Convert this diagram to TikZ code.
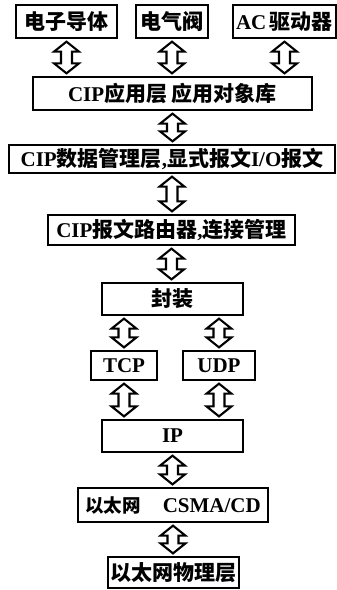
\documentclass[tikz,border=0pt]{standalone}
\usepackage{fontspec}
\setmainfont{Liberation Serif}
\newfontfamily\cjk{Noto Sans CJK SC}
\usetikzlibrary{calc}
\newcommand{\zh}[1]{{\cjk #1}}
\tikzset{
  box/.style={draw, line width=2.3pt, inner sep=0pt, align=center,
    font=\fontsize{21}{25}\selectfont\bfseries},
  arr/.style={draw, line width=2.1pt, fill=white, line join=miter},
}
% double hollow arrow from upper point #1 to lower point #2 (same x)
\newcommand{\dblarr}[2]{%
  \draw[arr] let \p1=(#1), \p2=(#2) in
    (\x1,{\y1-2.5pt}) -- ({\x1+12.5pt},{\y1-12.5pt}) -- ({\x1+5.5pt},{\y1-12.5pt})
    -- ({\x1+5.5pt},{\y2+12.5pt}) -- ({\x1+12.5pt},{\y2+12.5pt}) -- (\x1,{\y2+2.5pt})
    -- ({\x1-12.5pt},{\y2+12.5pt}) -- ({\x1-5.5pt},{\y2+12.5pt})
    -- ({\x1-5.5pt},{\y1-12.5pt}) -- ({\x1-12.5pt},{\y1-12.5pt}) -- cycle;}
\begin{document}
\begin{tikzpicture}[x=1pt,y=-1pt]
\useasboundingbox (0,0) rectangle (337,590);
\node[box, minimum width=101pt, minimum height=33pt] (e1) at (66.5,21.5) {\zh{电子导体}};
\node[box, minimum width=72pt, minimum height=33pt] (e2) at (172,21.5) {\zh{电气阀}};
\node[box, minimum width=103pt, minimum height=33pt] (e3) at (284.5,21.5) {AC\,\zh{驱动器}};
\node[box, minimum width=279pt, minimum height=33pt] (app) at (172.5,93.5) {CIP\zh{应用层 应用对象库}};
\node[box, minimum width=326pt, minimum height=28pt] (data) at (172,159) {CIP\zh{数据管理层},\zh{显式报文}I/O\zh{报文}};
\node[box, minimum width=247pt, minimum height=30pt] (router) at (171.5,230) {CIP\zh{报文路由器},\zh{连接管理}};
\node[box, minimum width=141pt, minimum height=32pt] (enc) at (172.5,299) {\zh{封装}};
\node[box, minimum width=66pt, minimum height=29pt] (tcp) at (124,365.5) {TCP};
\node[box, minimum width=72pt, minimum height=29pt] (udp) at (219,365.5) {UDP};
\node[box, minimum width=141pt, minimum height=32pt] (ip) at (172.5,436) {IP};
\node[box, minimum width=190pt, minimum height=34pt] (eth) at (173,505) {{\fontsize{18.5}{22}\selectfont\zh{以太网}}\hspace{22pt}CSMA/CD};
\node[box, minimum width=131pt, minimum height=31pt] (phy) at (173.5,572.5) {\zh{以太网物理层}};
\dblarr{e1.south}{e1.south |- app.north}
\dblarr{e2.south}{e2.south |- app.north}
\dblarr{e3.south}{e3.south |- app.north}
\dblarr{app.south}{app.south |- data.north}
\dblarr{data.south}{data.south |- router.north}
\dblarr{router.south}{router.south |- enc.north}
\dblarr{tcp.north |- enc.south}{tcp.north}
\dblarr{udp.north |- enc.south}{udp.north}
\dblarr{tcp.south}{tcp.south |- ip.north}
\dblarr{udp.south}{udp.south |- ip.north}
\dblarr{ip.south}{ip.south |- eth.north}
\dblarr{eth.south}{eth.south |- phy.north}
\end{tikzpicture}
\end{document}
